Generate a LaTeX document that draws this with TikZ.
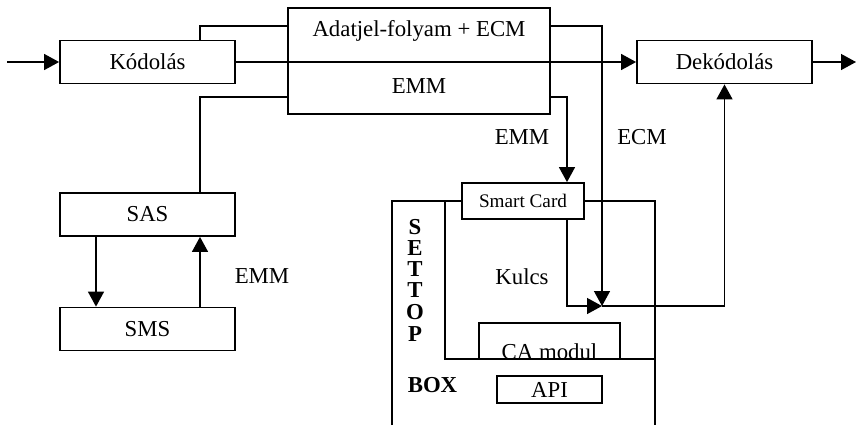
\documentclass[tikz,border=0pt]{standalone}
\usepackage{fontspec}
\setmainfont{Liberation Serif}
\usetikzlibrary{arrows.meta}

\tikzstyle{blokk} = [draw, line width=0.9pt, minimum width=87.5pt, minimum height=21.5pt, inner sep=0pt, font=\fontsize{11.4}{13}\selectfont]
\tikzstyle{felirat} = [inner sep=0pt, font=\fontsize{11.4}{13}\selectfont]
\tikzstyle{nyil} = [-{Triangle[length=7.5pt,width=8pt]}]

\begin{document}
\begin{tikzpicture}[x=0.5pt,y=-0.5pt,line width=0.7pt]
\useasboundingbox (0,0) rectangle (857,425);
% dobozok
\node[blokk] (kod) at (147.5,62) {Kódolás};
\node[blokk] (dekod) at (724.5,62) {Dekódolás};
\node[blokk] (sas) at (147.5,214.5) {SAS};
\node[blokk] (sms) at (147.5,329) {SMS};
\node[blokk, minimum width=131pt, minimum height=53pt] (adat) at (419,61) {};
\node[felirat] at (419,31) {Adatjel-folyam + ECM};
\node[felirat] at (419,86) {EMM};
\node[blokk, minimum width=61pt, minimum height=18pt, font=\fontsize{9.6}{11}\selectfont] (smart) at (523,201) {Smart Card};
\node[blokk, minimum width=52.5pt, minimum height=13.5pt] (api) at (549.5,389.5) {API};
\node[blokk, minimum width=70.5pt, minimum height=18pt] (ca) at (549.5,341) {};
\begin{scope}
\clip (470,320) rectangle (630,358.5);
\node[felirat, anchor=base] at (549.5,359.5) {CA modul};
\end{scope}
% settop box
\draw (392,425) |- (smart.west);
\draw (smart.east) -| (655,425);
\draw (445,201) |- (655,359);
\foreach \betu/\y in {S/227,E/248,T/269,T/290,O/312,P/334}
  \node[felirat, font=\fontsize{11.4}{13}\selectfont\bfseries] at (415,\y) {\betu};
\node[felirat, font=\fontsize{11.4}{13}\selectfont\bfseries] at (432.5,385) {BOX};
% vonalak
\coordinate (be) at (7,62);
\coordinate (ki) at (856,62);
\coordinate (k1) at (200,26);
\coordinate (k2) at (200,97);
\coordinate (ecm) at (602,26);
\coordinate (emm) at (567,97);
\coordinate (csomo) at (602,306);
\coordinate (le) at (96,0);
\coordinate (fol) at (200,0);
\draw[nyil] (be) -- (kod);
\draw[nyil] (kod) -- (dekod);
\draw[nyil] (dekod) -- (ki);
\draw (kod.north -| k1) |- (adat.west |- k1);
\draw (sas.north -| k2) |- (adat.west |- k2);
\draw[nyil] (adat.east |- ecm) -| (csomo);
\draw[nyil] (adat.east |- emm) -| (smart.north -| emm);
\draw[nyil] (smart.south -| emm) |- (csomo);
\draw[nyil] (csomo) -| (dekod.south);
\draw[nyil] (sas.south -| le) -- (sms.north -| le);
\draw[nyil] (sms.north -| fol) -- (sas.south -| fol);
% feliratok
\node[felirat] at (522,137) {EMM};
\node[felirat] at (642,137) {ECM};
\node[felirat] at (522,277) {Kulcs};
\node[felirat] at (262,276) {EMM};
\end{tikzpicture}
\end{document}
